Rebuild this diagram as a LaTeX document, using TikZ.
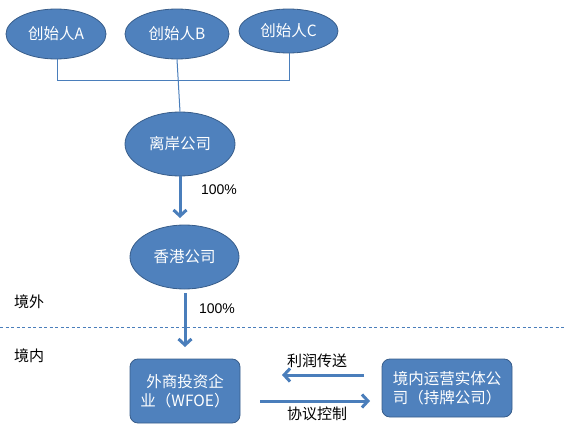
\documentclass[tikz,border=0pt]{standalone}
\usepackage{fontspec}
\setmainfont{Liberation Sans}
\newfontfamily\cjk{Noto Sans CJK SC}
\usetikzlibrary{shapes.geometric,arrows.meta}
\definecolor{bfill}{HTML}{4F81BD}
\definecolor{bdraw}{HTML}{385D8A}
\definecolor{bline}{HTML}{4A7EBB}
\tikzset{
  ell/.style={ellipse, fill=bfill, draw=bdraw, line width=0.8pt, inner sep=0pt, text=white, font=\cjk\fontsize{15.5}{18}\selectfont},
  rbox/.style={rectangle, rounded corners=8pt, fill=bfill, draw=bdraw, line width=0.8pt, inner sep=0pt, text=white, align=center, font=\cjk\fontsize{15.5}{19.5}\selectfont},
  thinl/.style={draw=bline, line width=1pt},
  arr/.style={draw=bline, line width=3pt, -{Straight Barb[length=6pt,width=13pt,line width=3pt]}},
  lbl/.style={text=black, font=\cjk\fontsize{15}{17}\selectfont, inner sep=0pt},
  pct/.style={text=black, font=\fontsize{14}{16}\selectfont, inner sep=0pt}
}
\begin{document}
\begin{tikzpicture}[x=1pt,y=-1pt]
\useasboundingbox (0,0) rectangle (566,439);
\node[ell, minimum width=100pt, minimum height=50pt] (fa) at (56,34) {创始人A};
\node[ell, minimum width=104pt, minimum height=50pt] (fb) at (177,34) {创始人B};
\node[ell, minimum width=99pt, minimum height=44pt] (fc) at (288.5,31) {创始人C};
\node[ell, minimum width=110pt, minimum height=64pt] (off) at (180,144) {离岸公司};
\node[ell, minimum width=109pt, minimum height=64pt] (hk) at (184.5,257) {香港公司};
\node[rbox, minimum width=110pt, minimum height=64pt] (wf) at (185,391) {外商投资企\\业（WFOE）};
\node[rbox, minimum width=130pt, minimum height=58pt] (op) at (447,388) {境内运营实体公\\司（持牌公司）};
\coordinate (ja) at (57,80);
\coordinate (jc) at (289,80);
\draw[thinl] (fa.south -| ja) -- (ja) -- (jc) -- (fc.south -| jc);
\draw[thinl] (fb.south) -- (off.north);
\draw[arr] (off.south) -- (180,218);
\draw[arr] (185,293) -- (185,347);
\node[pct] (p1) at (219,190) {100\%};
\node[pct] (p2) at (217,309) {100\%};
\draw[draw=bline, line width=0.8pt, dash pattern=on 3pt off 2.5pt] (0,327) -- (566,327);
\node[lbl] (out) at (29,302) {境外};
\node[lbl] (in) at (29,356) {境内};
\coordinate (l1) at (364,375);
\coordinate (r1) at (260,401);
\draw[arr] (l1) -- (282,375);
\draw[arr] (r1) -- (370,401);
\node[lbl] (t1) at (317,361) {利润传送};
\node[lbl] (t2) at (317,414) {协议控制};
\end{tikzpicture}
\end{document}
